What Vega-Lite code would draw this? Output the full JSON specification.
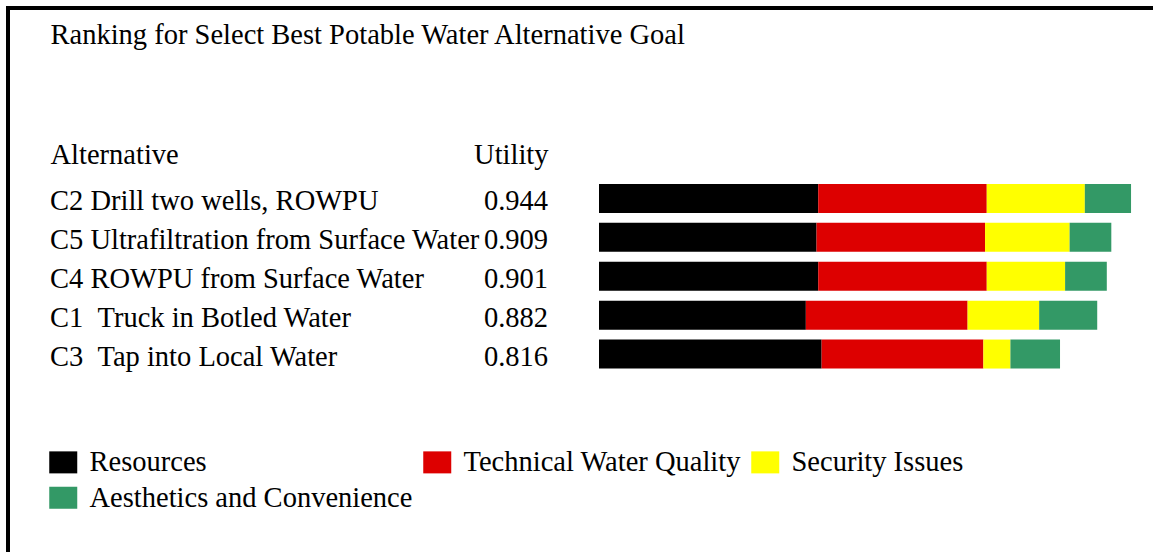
{
  "$schema": "https://vega.github.io/schema/vega-lite/v6.json",
  "width": 1145,
  "height": 544,
  "padding": {"left": 8, "top": 8, "right": 0, "bottom": 0},
  "background": "white",
  "config": {
    "view": {"stroke": "black", "strokeWidth": 4, "strokeDash": [1145, 1689, 544], "strokeCap": "square"},
    "font": "Liberation Serif"
  },
  "datasets": {
    "parts": [
      {"alt": "C2", "criterion": "Resources", "value": 0.389},
      {"alt": "C2", "criterion": "Technical Water Quality", "value": 0.299},
      {"alt": "C2", "criterion": "Security Issues", "value": 0.174},
      {"alt": "C2", "criterion": "Aesthetics and Convenience", "value": 0.082},
      {"alt": "C5", "criterion": "Resources", "value": 0.386},
      {"alt": "C5", "criterion": "Technical Water Quality", "value": 0.299},
      {"alt": "C5", "criterion": "Security Issues", "value": 0.150},
      {"alt": "C5", "criterion": "Aesthetics and Convenience", "value": 0.074},
      {"alt": "C4", "criterion": "Resources", "value": 0.389},
      {"alt": "C4", "criterion": "Technical Water Quality", "value": 0.299},
      {"alt": "C4", "criterion": "Security Issues", "value": 0.139},
      {"alt": "C4", "criterion": "Aesthetics and Convenience", "value": 0.074},
      {"alt": "C1", "criterion": "Resources", "value": 0.367},
      {"alt": "C1", "criterion": "Technical Water Quality", "value": 0.287},
      {"alt": "C1", "criterion": "Security Issues", "value": 0.127},
      {"alt": "C1", "criterion": "Aesthetics and Convenience", "value": 0.103},
      {"alt": "C3", "criterion": "Resources", "value": 0.395},
      {"alt": "C3", "criterion": "Technical Water Quality", "value": 0.287},
      {"alt": "C3", "criterion": "Security Issues", "value": 0.048},
      {"alt": "C3", "criterion": "Aesthetics and Convenience", "value": 0.088}
    ],
    "table": [
      {"alt": "C2", "col": "Alternative", "text": "C2 Drill two wells, ROWPU"},
      {"alt": "C5", "col": "Alternative", "text": "C5 Ultrafiltration from Surface Water"},
      {"alt": "C4", "col": "Alternative", "text": "C4 ROWPU from Surface Water"},
      {"alt": "C1", "col": "Alternative", "text": "C1 \u00a0Truck in Botled Water"},
      {"alt": "C3", "col": "Alternative", "text": "C3 \u00a0Tap into Local Water"},
      {"alt": "C2", "col": "Utility", "text": "0.944"},
      {"alt": "C5", "col": "Utility", "text": "0.909"},
      {"alt": "C4", "col": "Utility", "text": "0.901"},
      {"alt": "C1", "col": "Utility", "text": "0.882"},
      {"alt": "C3", "col": "Utility", "text": "0.816"}
    ]
  },
  "layer": [
    {
      "data": {"name": "parts"},
      "transform": [{"window": [{"op": "row_number", "as": "k"}], "groupby": ["alt"]}],
      "mark": {"type": "bar", "strokeWidth": 0},
      "encoding": {
        "y": {
          "field": "alt", "type": "nominal",
          "scale": {"domain": ["C2", "C5", "C4", "C1", "C3"], "range": [171, 365.5], "paddingInner": 0.255, "paddingOuter": 0.1275},
          "axis": null
        },
        "x": {
          "field": "value", "type": "quantitative", "stack": "zero",
          "scale": {"domain": [0, 1], "range": [591, 1154.6], "nice": false, "zero": true},
          "axis": {
            "orient": "top", "labels": false, "ticks": false, "domain": false, "grid": false,
            "title": "Ranking for Select Best Potable Water Alternative Goal",
            "titleX": 42, "titleY": 35, "titleAlign": "left", "titleAnchor": "start",
            "titleBaseline": "alphabetic", "titleAngle": 0, "titleLimit": 0,
            "titleFont": "Liberation Serif", "titleFontSize": 28.5, "titleFontWeight": "normal", "titleColor": "black"
          }
        },
        "order": {"field": "k", "type": "quantitative"},
        "color": {
          "field": "criterion", "type": "nominal",
          "sort": ["Resources", "Technical Water Quality", "Security Issues", "Aesthetics and Convenience"],
          "scale": {
            "domain": ["Resources", "Technical Water Quality", "Security Issues", "Aesthetics and Convenience"],
            "range": ["#000000", "#dd0000", "#ffff00", "#339966"]
          },
          "legend": {
            "orient": "none",
            "legendX": 41,
            "legendY": 440,
            "direction": "horizontal",
            "columns": 3,
            "title": null,
            "symbolType": "M-1,-0.786H1V0.786H-1Z",
            "symbolSize": 784,
            "symbolStrokeWidth": 0,
            "symbolOpacity": 1,
            "labelFont": "Liberation Serif",
            "labelFontSize": 28.5,
            "labelColor": "black",
            "labelLimit": 0,
            "labelOffset": 12,
            "columnPadding": 10,
            "rowPadding": 6.5,
            "padding": 0
          }
        }
      }
    },
    {
      "data": {"name": "table"},
      "layer": [
        {
          "transform": [{"filter": "datum.col == 'Alternative'"}],
          "mark": {"type": "text", "align": "left", "baseline": "alphabetic", "dy": 12, "fontSize": 28.5, "font": "Liberation Serif", "color": "black"},
          "encoding": {
            "x": {
              "field": "col", "type": "nominal",
              "scale": {"type": "point", "domain": ["Alternative", "Utility"], "range": [42, 540], "padding": 0},
              "axis": {
                "orient": "top", "offset": -155, "domain": false, "ticks": false, "grid": false,
                "labelPadding": 0, "labelFont": "Liberation Serif", "labelFontSize": 28.5, "labelColor": "black",
                "labelBaseline": "alphabetic", "labelAngle": 0, "labelOverlap": false, "labelFlush": false, "labelLimit": 0,
                "labelAlign": {"condition": {"test": "datum.value == 'Utility'", "value": "right"}, "value": "left"},
                "title": null
              }
            },
            "y": {"field": "alt", "type": "nominal"},
            "text": {"field": "text"}
          }
        },
        {
          "transform": [{"filter": "datum.col == 'Utility'"}],
          "mark": {"type": "text", "align": "right", "baseline": "alphabetic", "dy": 12, "fontSize": 28.5, "font": "Liberation Serif", "color": "black"},
          "encoding": {
            "x": {"field": "col", "type": "nominal"},
            "y": {"field": "alt", "type": "nominal"},
            "text": {"field": "text"}
          }
        }
      ]
    }
  ],
  "resolve": {"scale": {"x": "independent"}, "axis": {"x": "independent"}}
}
